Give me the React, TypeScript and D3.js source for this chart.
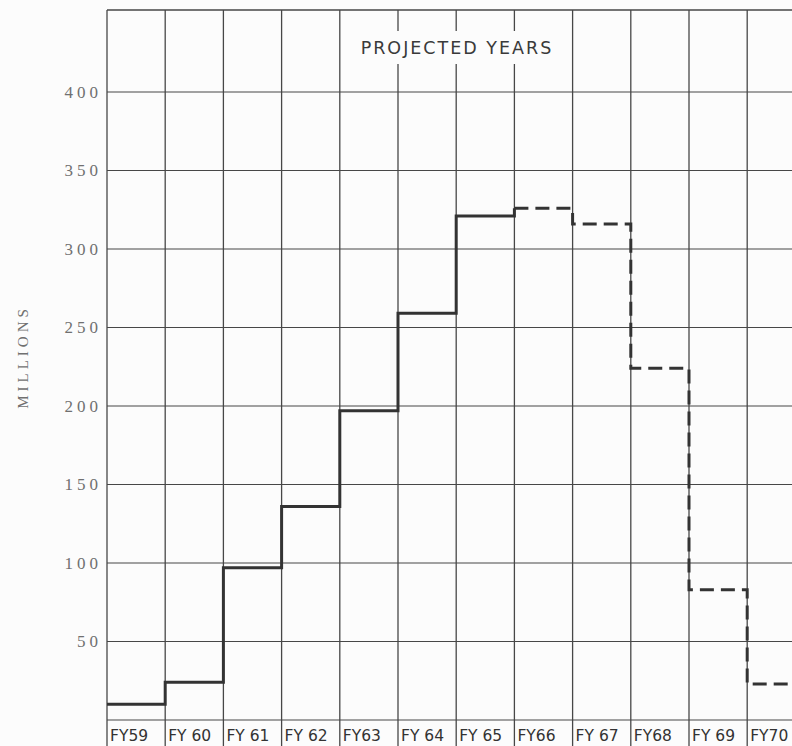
import * as d3 from "d3";

const years = ["FY59", "FY60", "FY61", "FY62", "FY63", "FY64", "FY65", "FY66", "FY67", "FY68", "FY69", "FY70"];
const yearLabels = ["FY59", "FY 60", "FY 61", "FY 62", "FY63", "FY 64", "FY 65", "FY66", "FY 67", "FY68", "FY 69", "FY70"];
const actualValues = [10, 24, 97, 136, 197, 259, 321];
const projectedValues = [326, 316, 224, 83, 23];
const yTicks = [50, 100, 150, 200, 250, 300, 350, 400];

const W = 792;
const H = 746;
const left = 107;
const top = 10;
const zeroY = 720;

export default function App() {
  const x = d3.scaleBand<string>().domain(years).range([left, left + 58.2 * 12]).padding(0);
  const y = d3.scaleLinear().domain([0, 400]).range([zeroY, 92]);
  const bw = x.bandwidth();
  const right = left + bw * 12;

  const n = actualValues.length;

  const line = d3
    .line<[number, number]>()
    .x((d) => d[0])
    .y((d) => y(d[1]))
    .curve(d3.curveStepAfter);

  // solid actuals, then the rise into the first projected year
  const solidPts: [number, number][] = actualValues.map((v, i) => [x(years[i])!, v]);
  solidPts.push([x(years[n])!, projectedValues[0]]);

  const dashPts: [number, number][] = projectedValues.map((v, i) => [x(years[n + i])!, v]);
  dashPts.push([x(years[years.length - 1])! + bw, projectedValues[projectedValues.length - 1]]);

  const gridColor = "#474747";

  return (
    <svg
      width={W}
      height={H}
      style={{ position: "absolute", left: 0, top: 0, background: "#fcfcfc" }}
    >
      {/* vertical grid */}
      {d3.range(years.length + 1).map((i) => {
        const xx = left + i * bw;
        return (
          <line key={"v" + i} x1={xx} x2={xx} y1={top} y2={H} stroke={gridColor} strokeWidth={1.3} />
        );
      })}
      {/* top border and horizontal grid */}
      <line x1={left} x2={right} y1={top} y2={top} stroke={gridColor} strokeWidth={1.4} />
      {[0, ...yTicks].map((t) => (
        <line key={"h" + t} x1={left} x2={right} y1={y(t)} y2={y(t)} stroke={gridColor} strokeWidth={1.2} />
      ))}

      {/* header */}
      <rect x={346} y={31} width={222} height={33} fill="#fcfcfc" />
      <text
        x={457}
        y={54}
        textAnchor="middle"
        fontFamily="'DejaVu Sans', sans-serif"
        fontSize={17.5}
        letterSpacing={2}
        fill="#3a3a3a"
      >
        PROJECTED YEARS
      </text>

      {/* y ticks */}
      {yTicks.map((t) => (
        <text
          key={"t" + t}
          x={102}
          y={y(t) + 5.5}
          textAnchor="end"
          fontFamily="'Liberation Serif', serif"
          fontSize={17}
          letterSpacing={4}
          fill="#707070"
        >
          {t}
        </text>
      ))}
      <text
        transform={`translate(28, ${357}) rotate(-90)`}
        textAnchor="middle"
        fontFamily="'Liberation Serif', serif"
        fontSize={15}
        letterSpacing={4}
        fill="#707070"
      >
        MILLIONS
      </text>

      {/* x labels */}
      {years.map((yr, i) => (
        <text
          key={yr}
          x={x(yr)! + 3}
          y={741}
          fontFamily="'DejaVu Sans', sans-serif"
          fontSize={15.5}
          fill="#333"
        >
          {yearLabels[i]}
        </text>
      ))}

      {/* step lines */}
      <path d={line(solidPts)!} fill="none" stroke="#333" strokeWidth={3} />
      <path
        d={line(dashPts)!}
        fill="none"
        stroke="#333"
        strokeWidth={3}
        strokeDasharray="14 7"
      />
    </svg>
  );
}
